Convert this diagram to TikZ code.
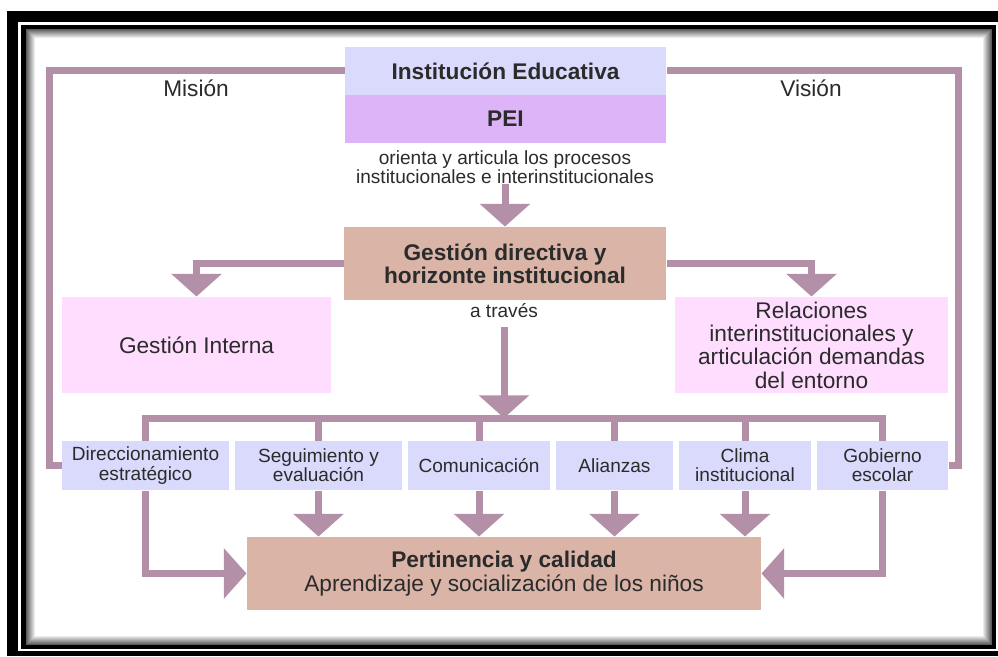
\documentclass[tikz,border=0pt]{standalone}
\usepackage{fontspec}
\setmainfont{Liberation Sans}
\usepackage{tikz}
\usetikzlibrary{arrows.meta}
\definecolor{lineC}{HTML}{B48FA8}
\definecolor{instC}{HTML}{DADAFC}
\definecolor{peiC}{HTML}{DDB4F7}
\definecolor{gestC}{HTML}{D9B4A7}
\definecolor{pinkC}{HTML}{FFDDFF}
\definecolor{txtC}{HTML}{2B2B2B}
\tikzset{every picture/.style={line width=0.75pt}}
\tikzset{
  sz/.style n args={2}{minimum width=#1*0.75pt, minimum height=#2*0.75pt},
  box/.style={inner sep=0pt, align=center, text=txtC},
  big/.style={font=\fontsize{17}{17.5}\selectfont},
  bigb/.style={font=\fontsize{17}{17.5}\selectfont\bfseries},
  small/.style={font=\fontsize{14.3}{14.5}\selectfont},
  flow/.style={draw=lineC, line width=5.25pt},
  flowarrow/.style={flow, -{Triangle[width=37pt,length=17pt]}},
}

\begin{document}
\begin{tikzpicture}[x=0.75pt,y=0.75pt,yscale=-1,xscale=1]
		\useasboundingbox (0,0) rectangle (998,656);
		
		%Frame
		\fill[black] (7,11) rectangle (998,656);
		\fill[white] (18,22) rectangle (998,651);
		\fill[black] (21,25) rectangle (996,649);
		\fill[white] (26,29) rectangle (992,645);
		%Shadow
		\foreach \i [evaluate=\i as \g using int(64-7*\i)] in {0,...,8}
			\draw[black!\g] (26.5+\i,29.5+\i) rectangle (991.5-\i,644.5-\i);
		
		%Top boxes
		\node[box, bigb, fill=instC, sz={321}{48}] (inst) at (505.5,71) {Institución Educativa};
		\node[box, bigb, fill=peiC, sz={321}{48}] (pei) at (505.5,119) {PEI};
		% Text Node
		\node[box, small] (orienta) at (505,167) {orienta y articula los procesos\\institucionales e interinstitucionales};
		\node[box, big] (mision) at (196,88) {Misión};
		\node[box, big] (vision) at (811,88) {Visión};
		
		%Middle boxes
		\node[box, bigb, fill=gestC, sz={322}{73}] (gest) at (505,263.5) {Gestión directiva y\\horizonte institucional};
		\node[box, big, fill=pinkC, sz={269}{96}] (interna) at (196.5,345) {Gestión Interna};
		\node[box, big, fill=pinkC, sz={273}{96}] (relac) at (811.5,345) {Relaciones\\interinstitucionales y\\articulación demandas\\del entorno};
		% Text Node
		\node[box, small] (atraves) at (504,311) {a través};
		
		%Process boxes
		\node[box, small, fill=instC, sz={167}{49}] (dir) at (145.5,465.5) {Direccionamiento\\estratégico};
		\node[box, small, fill=instC, sz={167}{49}] (seg) at (318.5,465.5) {Seguimiento y\\evaluación};
		\node[box, small, fill=instC, sz={142}{49}] (com) at (479,465.5) {Comunicación};
		\node[box, small, fill=instC, sz={117}{49}] (ali) at (614.5,465.5) {Alianzas};
		\node[box, small, fill=instC, sz={132}{49}] (cli) at (745,465.5) {Clima\\institucional};
		\node[box, small, fill=instC, sz={131}{49}] (gob) at (882.5,465.5) {Gobierno\\escolar};
		
		%Result box
		\node[box, big, fill=gestC, sz={514}{73}] (pert) at (504,573.5) {\textbf{Pertinencia y calidad}\\Aprendizaje y socialización de los niños};
		
		\coordinate (hub) at (504,418);
		\coordinate (lcorner) at (49,465.5);
		\coordinate (rcorner) at (958,465.5);
		
		%Connectors
		\draw[flowarrow] (orienta.south) -- (gest.north);
		\draw[flowarrow] (gest.west) -| (interna.north);
		\draw[flowarrow] (gest.east) -| (relac.north);
		\draw[flowarrow, shorten <=6pt] (atraves.south) -- (hub);
		\draw[flow] (dir.north) |- (hub) -| (gob.north);
		\foreach \n in {seg,com,ali,cli}
			\draw[flow] (\n.north) -- (\n.north |- hub);
		\foreach \n in {seg,com,ali,cli}
			\draw[flowarrow] (\n.south) -- (\n.south |- pert.north);
		\draw[flowarrow] (dir.south) |- (pert.west);
		\draw[flowarrow] (gob.south) |- (pert.east);
		\draw[flow] (inst.west) -| (lcorner) -- (dir.west);
		\draw[flow] (inst.east) -| (rcorner) -- (gob.east);
		
\end{tikzpicture}
\end{document}
